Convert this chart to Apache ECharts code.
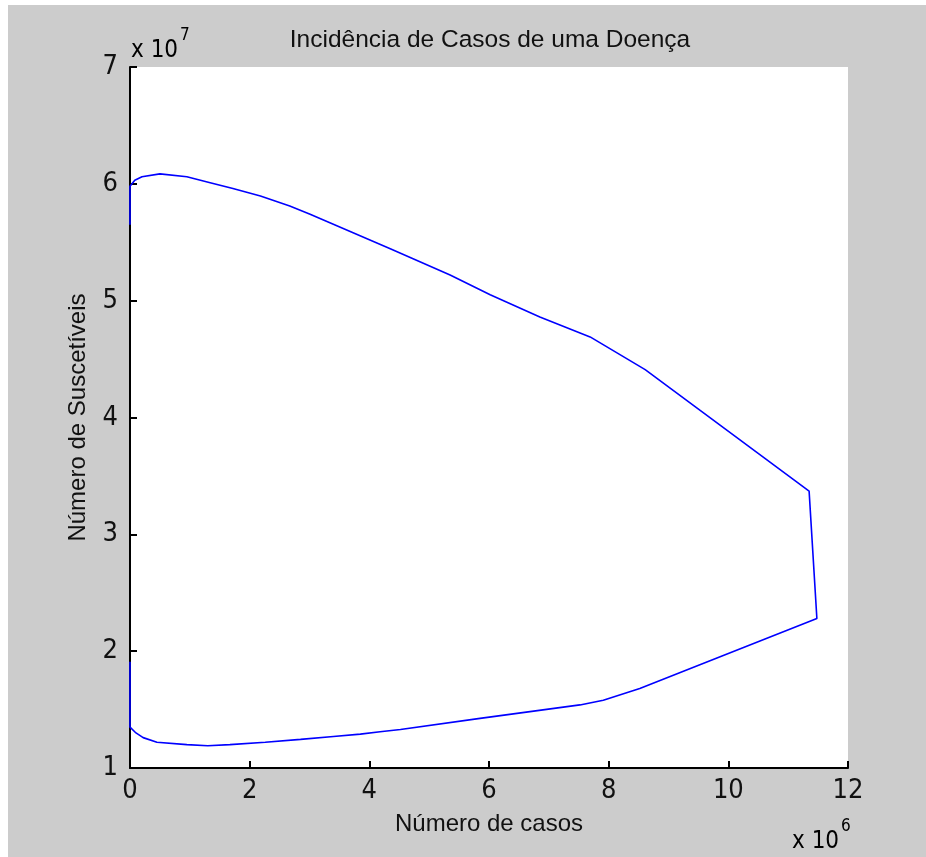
<!DOCTYPE html>
<html>
<head>
<meta charset="utf-8">
<script src="https://cdn.jsdelivr.net/npm/echarts@6/dist/echarts.min.js"></script>
<style>
  html, body { margin: 0; padding: 0; background: #ffffff; }
  #chart { position: absolute; left: 8px; top: 5px; width: 918px; height: 852px; }
</style>
</head>
<body>
<div id="chart"></div>
<script>
// Phase trajectory: cases (x 10^6) against susceptibles (x 10^7)
const casos = [
  0, 0, 0.10, 0.22, 0.45, 0.95, 1.30, 1.67, 2.26, 2.85, 3.40, 3.85, 4.18, 4.52, 5.85, 7.52, 7.91, 8.52,
  11.48, 11.35, 8.61, 7.69, 6.85, 6.02, 5.35, 4.35, 3.01, 2.67, 2.18, 1.72, 1.34, 0.95, 0.50, 0.20, 0.08, 0, 0
];
const suscetiveis = [
  1.91, 1.35, 1.30, 1.26, 1.22, 1.20, 1.19, 1.20, 1.22, 1.245, 1.27, 1.29, 1.31, 1.33, 1.425, 1.54, 1.58, 1.68,
  2.28, 3.37, 4.41, 4.69, 4.86, 5.05, 5.22, 5.445, 5.74, 5.81, 5.895, 5.96, 6.01, 6.06, 6.085, 6.06, 6.03, 5.98, 5.65
];
const xTicks = { min: 0, max: 12, interval: 2 };
const yTicks = { min: 1, max: 7, interval: 1 };

const titulo = 'Incidência de Casos de uma Doença';
const nomeX = 'Número de casos';
const nomeY = 'Número de Suscetíveis';

const FONT = '"Liberation Sans", Arial, sans-serif';
const FONT_NUM = '"Liberation Sans Narrow", "DejaVu Sans Condensed", "Liberation Sans", sans-serif';
const pontos = casos.map((c, i) => [c, suscetiveis[i]]);

// "x 10^n" multiplier label drawn beside an axis
function multiplicador(expoente, left, top) {
  return {
    type: 'text', left: left, top: top,
    style: {
      text: '{b|x 10}{e|' + expoente + '}',
      rich: {
        b: { fontFamily: FONT_NUM, fontSize: 24, color: '#111', verticalAlign: 'bottom', lineHeight: 36 },
        e: { fontFamily: FONT_NUM, fontSize: 17, color: '#111', verticalAlign: 'top', padding: [0, 0, 16, 2] }
      }
    }
  };
}

const chart = echarts.init(document.getElementById('chart'), null, { renderer: 'canvas' });
chart.setOption({
  backgroundColor: '#cccccc',
  animation: false,
  title: {
    text: titulo,
    left: 477, top: 18, textAlign: 'center',
    textStyle: { fontFamily: FONT, fontSize: 24.5, fontWeight: 'normal', color: '#111' }
  },
  grid: { left: 122, top: 62, right: 78, bottom: 89, show: true, backgroundColor: '#ffffff', borderWidth: 0 },
  xAxis: {
    type: 'value', min: xTicks.min, max: xTicks.max, interval: xTicks.interval,
    name: nomeX, nameLocation: 'middle', nameGap: 44,
    nameTextStyle: { fontFamily: FONT, fontSize: 24, color: '#111' },
    axisLine: { lineStyle: { color: '#000', width: 2 } },
    axisTick: { inside: true, length: 7, lineStyle: { color: '#000', width: 2 } },
    axisLabel: { fontFamily: FONT_NUM, fontSize: 27, color: '#111', margin: 9 },
    splitLine: { show: false }
  },
  yAxis: {
    type: 'value', min: yTicks.min, max: yTicks.max, interval: yTicks.interval,
    name: nomeY, nameLocation: 'middle', nameGap: 40,
    nameTextStyle: { fontFamily: FONT, fontSize: 24, color: '#111' },
    axisLine: { lineStyle: { color: '#000', width: 2 } },
    axisTick: { inside: true, length: 7, lineStyle: { color: '#000', width: 2 } },
    axisLabel: { fontFamily: FONT_NUM, fontSize: 27, color: '#111', margin: 12 },
    splitLine: { show: false }
  },
  graphic: [
    multiplicador(7, 123, 22),
    multiplicador(6, 784, 813)
  ],
  series: [{
    type: 'line',
    data: pontos,
    showSymbol: false,
    smooth: false,
    lineStyle: { color: '#0000ff', width: 1.6 }
  }]
});
</script>
</body>
</html>
